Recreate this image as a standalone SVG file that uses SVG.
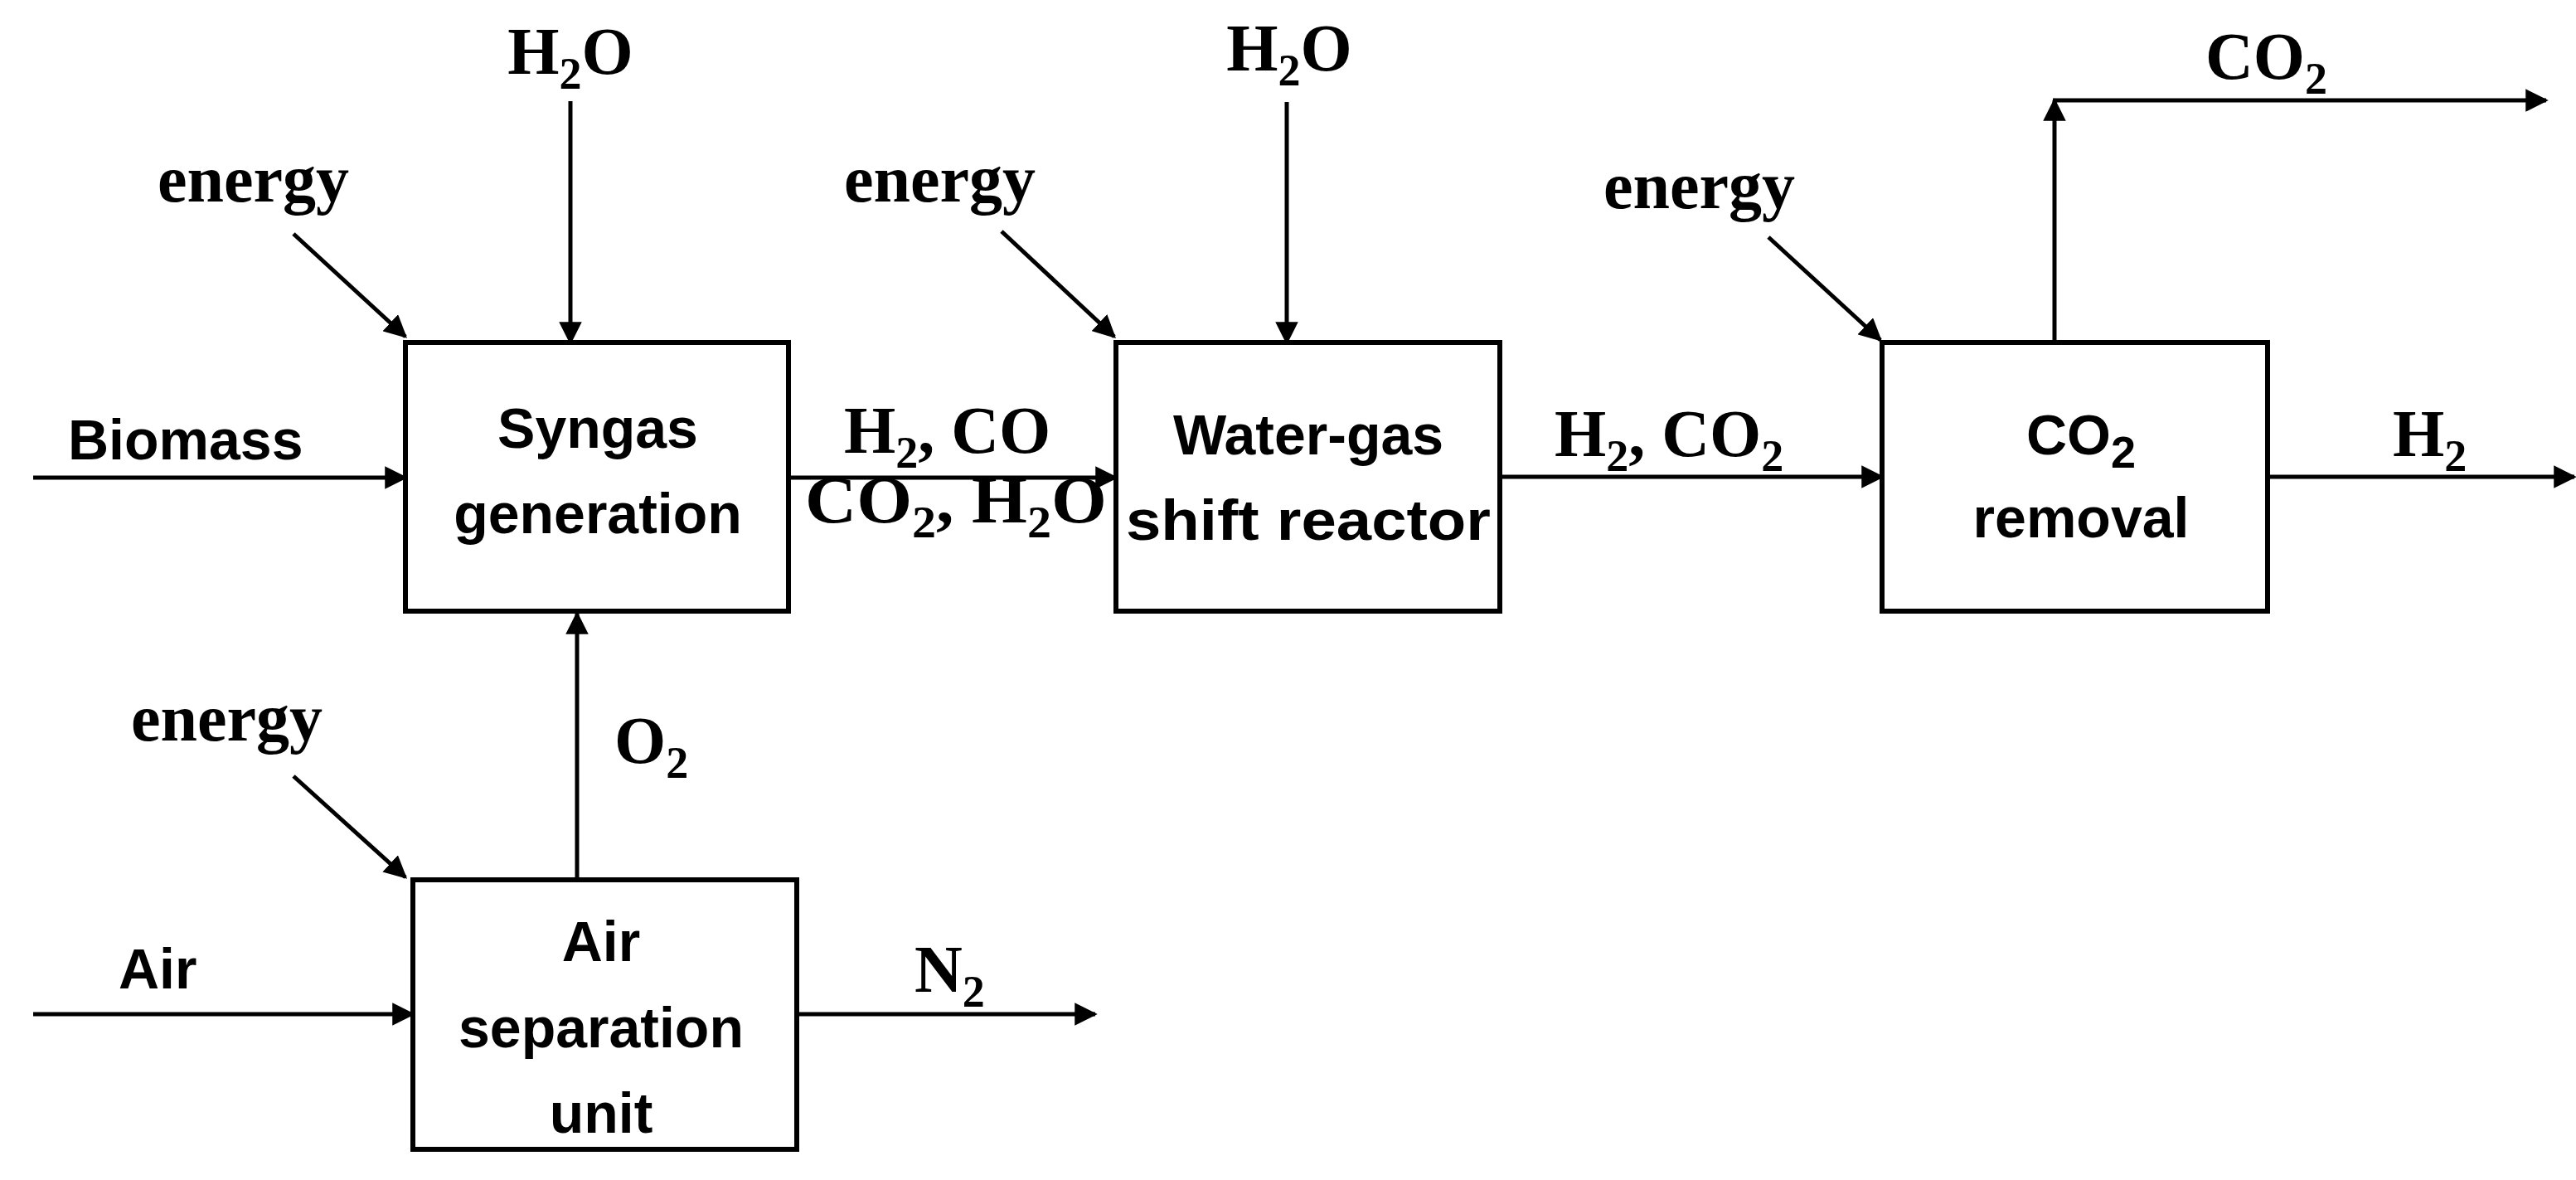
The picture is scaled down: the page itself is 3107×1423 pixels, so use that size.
<svg xmlns="http://www.w3.org/2000/svg" width="3107" height="1423" viewBox="0 0 3107 1423">
<style>
.box{fill:#fff;stroke:#000;stroke-width:6}
.ln{stroke:#000;stroke-width:5;fill:none}
.bt{font-family:"Liberation Sans",Arial,sans-serif;font-weight:bold;font-size:68px;text-anchor:middle}
.lt{font-family:"Liberation Sans",Arial,sans-serif;font-weight:bold;font-size:68px}
.st{font-family:"Liberation Serif","Times New Roman",serif;font-weight:bold;font-size:80px}
.sub{font-size:54px}
</style>
<defs>
<marker id="ah" viewBox="0 0 10 10" refX="9" refY="5" markerWidth="5.5" markerHeight="5.5" orient="auto" markerUnits="strokeWidth">
<path d="M0,0 L10,5 L0,10 z" fill="#000"/>
</marker>
</defs>
<rect width="3107" height="1423" fill="#fff"/>
<g id="connectors">
<line class="ln" x1="40" y1="576" x2="489" y2="576" marker-end="url(#ah)"/>
<line class="ln" x1="688" y1="122" x2="688" y2="413" marker-end="url(#ah)"/>
<line class="ln" x1="354" y1="282" x2="489" y2="406" marker-end="url(#ah)"/>
<line class="ln" x1="951" y1="576" x2="1346" y2="576" marker-end="url(#ah)"/>
<line class="ln" x1="696" y1="1061" x2="696" y2="740" marker-end="url(#ah)"/>
<line class="ln" x1="354" y1="936" x2="489" y2="1058" marker-end="url(#ah)"/>
<line class="ln" x1="40" y1="1223" x2="498" y2="1223" marker-end="url(#ah)"/>
<line class="ln" x1="961" y1="1223" x2="1321" y2="1223" marker-end="url(#ah)"/>
<line class="ln" x1="1552" y1="123" x2="1552" y2="413" marker-end="url(#ah)"/>
<line class="ln" x1="1208" y1="279" x2="1344" y2="406" marker-end="url(#ah)"/>
<line class="ln" x1="1809" y1="575" x2="2270" y2="575" marker-end="url(#ah)"/>
<line class="ln" x1="2133" y1="286" x2="2268" y2="410" marker-end="url(#ah)"/>
<line class="ln" x1="2478" y1="413" x2="2478" y2="121" marker-end="url(#ah)"/>
<line class="ln" x1="2476" y1="121" x2="3071" y2="121" marker-end="url(#ah)"/>
<line class="ln" x1="2735" y1="575" x2="3105" y2="575" marker-end="url(#ah)"/>
</g>
<g id="syngas">
<rect class="box" x="489" y="413" width="462" height="324"/>
<text class="bt" x="721" y="540">Syngas</text>
<text class="bt" x="721" y="643">generation</text>
</g>
<g id="wgs">
<rect class="box" x="1346" y="413" width="463" height="324"/>
<text class="bt" x="1578" y="548">Water-gas</text>
<text class="bt" x="1578" y="651" textLength="440" lengthAdjust="spacingAndGlyphs">shift reactor</text>
</g>
<g id="co2removal">
<rect class="box" x="2270" y="413" width="465" height="324"/>
<text class="bt" x="2510" y="548">CO<tspan class="sub" dy="16">2</tspan></text>
<text class="bt" x="2510" y="648">removal</text>
</g>
<g id="asu">
<rect class="box" x="498" y="1061" width="463" height="325"/>
<text class="bt" x="725" y="1159">Air</text>
<text class="bt" x="725" y="1263">separation</text>
<text class="bt" x="725" y="1366">unit</text>
</g>
<g id="labels">
<text class="st" x="688" y="89" text-anchor="middle">H<tspan class="sub" dy="18">2</tspan><tspan dy="-18">O</tspan></text>
<text class="st" x="1555" y="85" text-anchor="middle">H<tspan class="sub" dy="18">2</tspan><tspan dy="-18">O</tspan></text>
<text class="st" x="190" y="243">energy</text>
<text class="st" x="1018" y="243">energy</text>
<text class="st" x="158" y="893">energy</text>
<text class="st" x="1934" y="251">energy</text>
<text class="lt" x="82" y="554">Biomass</text>
<text class="lt" x="143" y="1192">Air</text>
<text class="st" x="1018" y="546">H<tspan class="sub" dy="18">2</tspan><tspan dy="-18">, CO</tspan></text>
<text class="st" x="971" y="630" textLength="364" lengthAdjust="spacingAndGlyphs">CO<tspan class="sub" dy="18">2</tspan><tspan dy="-18">, H</tspan><tspan class="sub" dy="18">2</tspan><tspan dy="-18">O</tspan></text>
<text class="st" x="741" y="920">O<tspan class="sub" dy="18">2</tspan></text>
<text class="st" x="1103" y="1196">N<tspan class="sub" dy="18">2</tspan></text>
<text class="st" x="1875" y="550">H<tspan class="sub" dy="18">2</tspan><tspan dy="-18">, CO</tspan><tspan class="sub" dy="18">2</tspan></text>
<text class="st" x="2660" y="95">CO<tspan class="sub" dy="18">2</tspan></text>
<text class="st" x="2886" y="550">H<tspan class="sub" dy="18">2</tspan></text>
</g>
</svg>
